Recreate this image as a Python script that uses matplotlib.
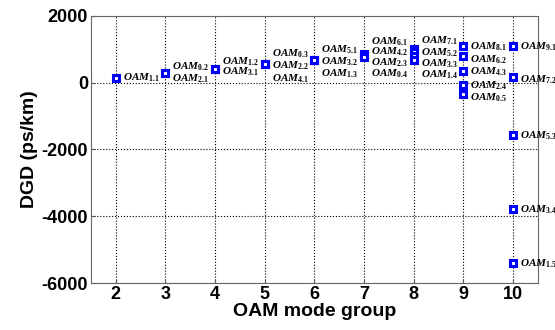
import numpy as np
import matplotlib.pyplot as plt

plt.rcParams['font.family'] = ['Liberation Sans', 'DejaVu Sans']
plt.rcParams['mathtext.fontset'] = 'custom'
plt.rcParams['mathtext.bf'] = 'Liberation Serif:bold'
plt.rcParams['mathtext.bfit'] = 'Liberation Serif:italic:bold'
plt.rcParams['axes.unicode_minus'] = False

# DGD of each OAM mode, grouped by mode group
groups = [2, 3, 3, 4, 4, 5, 5, 5, 6, 6, 6, 7, 7, 7, 7, 8, 8, 8, 8,
          9, 9, 9, 9, 9, 10, 10, 10, 10, 10]
modes = ['1.1', '0.2', '2.1', '1.2', '3.1', '0.3', '2.2', '4.1',
         '5.1', '3.2', '1.3', '6.1', '4.2', '2.3', '0.4',
         '7.1', '5.2', '3.3', '1.4',
         '8.1', '6.2', '4.3', '2.4', '0.5',
         '9.1', '7.2', '5.3', '3.4', '1.5']
dgd = [150, 300, 300, 400, 400, 570, 570, 570, 670, 670, 670,
       850, 820, 790, 760, 1020, 910, 800, 690,
       1110, 810, 360, -70, -340,
       1100, 180, -1560, -3770, -5390]
# vertical placement of each mode label (ps/km)
label_y = [150, 480, 120, 630, 330, 870, 510, 120, 990, 630, 270,
           1230, 930, 600, 270, 1260, 900, 570, 240,
           1080, 690, 330, -90, -450,
           1080, 90, -1590, -3800, -5420]

fig = plt.figure(figsize=(5.55, 3.3), dpi=100)
ax = fig.add_axes([0.164, 0.142, 0.805, 0.81])

ax.plot(groups, dgd, 's', ls='none', ms=4, mew=2.2, mfc='white', mec='#0000ff', zorder=3)

for g, m, yl in zip(groups, modes, label_y):
    ax.annotate(r'$\mathbfit{OAM}_{\mathbf{%s}}$' % m, xy=(g, yl), xytext=(5, 0),
                textcoords='offset points', ha='left', va='center', fontsize=8)

ax.set_xlim(1.5, 10.5)
ax.set_ylim(-6000, 2000)
ax.set_xticks(range(2, 11))
ax.set_yticks([-6000, -4000, -2000, 0, 2000])
ax.grid(True, ls=':', color='black', lw=0.8)
ax.tick_params(direction='in', length=3, labelsize=13, color='#555555', pad=2)
for lab in ax.get_xticklabels() + ax.get_yticklabels():
    lab.set_fontweight('bold')
for s in ax.spines.values():
    s.set_color('#666666')
ax.set_xlabel('OAM mode group', fontsize=14, fontweight='bold', labelpad=0)
ax.set_ylabel('DGD (ps/km)', fontsize=14, fontweight='bold', labelpad=3)

plt.savefig('out.png')
